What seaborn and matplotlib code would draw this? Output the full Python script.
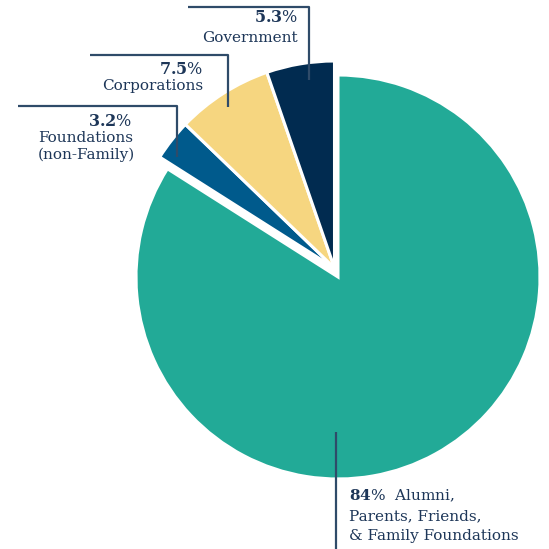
import matplotlib
matplotlib.use("Agg")
import matplotlib.pyplot as plt
import seaborn as sns

# dados do grafico (ordem horaria a partir do topo)
categorias = ["Alumni, Parents, Friends, & Family Foundations",
              "Foundations (non-Family)", "Corporations", "Government"]
valores = [84.0, 3.2, 7.5, 5.3]
cores = ["#22AA97", "#005A8C", "#F6D680", "#012B50"]

sns.set_theme(style="white")
plt.rcParams["font.family"] = ["DejaVu Serif"]
plt.rcParams["mathtext.fontset"] = "custom"
plt.rcParams["mathtext.rm"] = "DejaVu Serif"
plt.rcParams["mathtext.bf"] = "DejaVu Serif:bold"

W = 549
fig = plt.figure(figsize=(5.49, 5.49), dpi=100)
ax = fig.add_axes([0, 0, 1, 1])

# pie centrado em pixels (338, 277) com raio ~202
fatias, _ = ax.pie(valores, colors=cores, startangle=90, counterclock=False,
                   center=(338, W - 277), radius=202,
                   wedgeprops=dict(edgecolor="white", linewidth=2.2))
# as fatias pequenas saem juntas, em bloco, e um pouco maiores
for f in fatias[1:]:
    f.set_center((334.5, W - 268))
    f.set_radius(207)

ax.set_xlim(0, W)
ax.set_ylim(0, W)
ax.set_aspect("equal")
ax.axis("off")

cor_texto = "#1D3658"
cor_linha = "#2F4B69"


def linha(xs, ys):
    ax.plot(xs, [W - y for y in ys], color=cor_linha, lw=1.6,
            solid_capstyle="butt")


def rotulo(x, y, s, ha="right", tam=11):
    return ax.text(x, W - y, s, ha=ha, va="center", fontsize=tam,
                   color=cor_texto)


def pct(x, y, numero, resto="", ha="right", tam=11.5):
    # numero em negrito, "%" normal
    return rotulo(x, y, r"$\mathbf{" + numero + r"}$%" + resto, ha=ha,
                  tam=tam)


# Government
linha([188, 309, 309], [7, 7, 80])
pct(298, 18, "5.3")
rotulo(298, 38, "Government")

# Corporations
linha([90, 228, 228], [55, 55, 107])
pct(203, 69, "7.5")
rotulo(203, 86, "Corporations")

# Foundations
linha([18, 177, 177], [106, 106, 157])
pct(132, 121, "3.2")
rotulo(38, 138, "Foundations", ha="left")
rotulo(38, 155, "(non-Family)", ha="left")

# Alumni
linha([336, 336], [432, 549])
pct(349, 496, "84", "  Alumni,", ha="left", tam=11)
rotulo(349, 516, "Parents, Friends,", ha="left")
rotulo(349, 536, "& Family Foundations", ha="left")

fig.savefig("out.png", dpi=100, facecolor="white")
